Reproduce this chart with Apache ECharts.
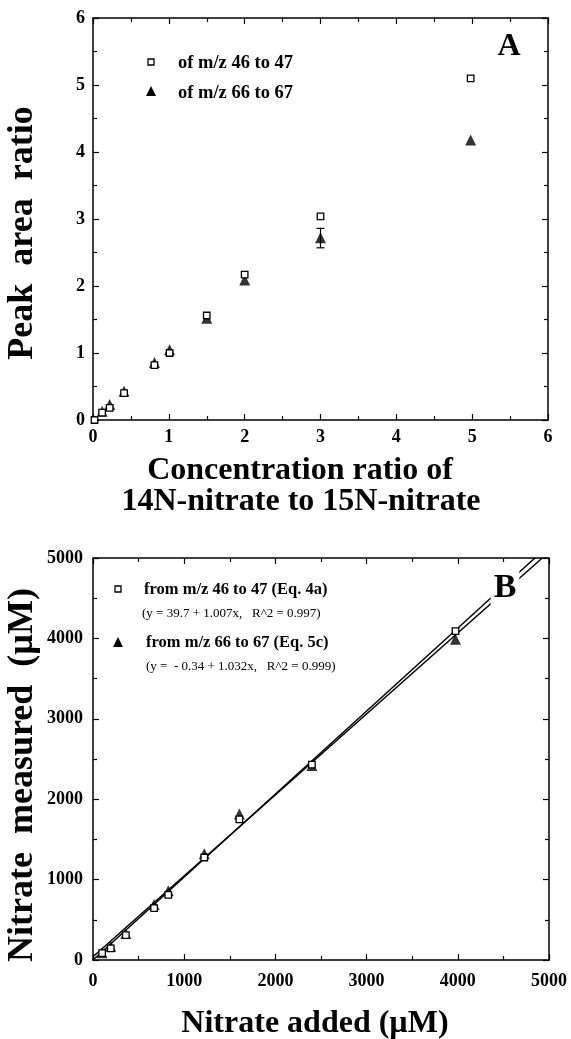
<!DOCTYPE html>
<html>
<head>
<meta charset="utf-8">
<script src="https://cdn.jsdelivr.net/npm/echarts@6/dist/echarts.min.js"></script>
<style>
  html, body { margin: 0; padding: 0; background: #fff; }
  #chart { width: 571px; height: 1039px; }
</style>
</head>
<body>
<div id="chart"></div>
<script>
// panel A: concentration ratio vs peak area ratio
const ratioX = [0.02, 0.12, 0.22, 0.41, 0.81, 1.01, 1.5, 2, 3, 4.98]
const ratio4647 = [0, 0.11, 0.18, 0.40, 0.82, 1.0, 1.56, 2.17, 3.04, 5.10]
const ratioXTri = [0.12, 0.22, 0.41, 0.81, 1.01, 1.5, 2, 3, 4.98]
const ratio6667 = [0.13, 0.23, 0.43, 0.86, 1.05, 1.52, 2.09, 2.72, 4.18]
const errBarsA = [[3, 2.57, 2.86]]

// panel B: nitrate added vs measured
const addedB = [100, 195, 360, 670, 825, 1220, 1605, 2400, 3975]
const meas4647 = [85, 145, 310, 645, 810, 1275, 1750, 2430, 4090]
const meas6667 = [90, 170, 330, 690, 860, 1320, 1815, 2420, 3990]
// fitted lines (end points of y = 39.7 + 1.007x and y = -0.34 + 1.032x)
const fit4647 = [[0, 39.7], [4926, 5000]]
const fit6667 = [[0, -0.34], [4845, 5000]]

const serif = '"Liberation Serif", "Times New Roman", serif'
const pair = (xs, ys) => xs.map((x, i) => [x, ys[i]])

function labelStyle(margin) {
    return { color: '#000', fontFamily: serif, fontWeight: 'bold', fontSize: 18, margin: margin, formatter: v => String(v) }
}
function axisBase(extra) {
    return Object.assign({
        type: 'value',
        axisLine: { show: true, onZero: false, lineStyle: { color: '#000', width: 1.5 } },
        axisTick: { show: true, inside: true, length: 6, lineStyle: { color: '#000', width: 1.2 } },
        minorTick: { show: true, splitNumber: 2, length: 4, lineStyle: { color: '#000', width: 1.2 } },
        splitLine: { show: false },
        axisLabel: labelStyle(8)
    }, extra)
}
function hidden(extra) {
    const a = axisBase(extra)
    a.axisLabel = { show: false }
    return a
}

const chart = echarts.init(document.getElementById('chart'))
const option = {
    backgroundColor: '#fff',
    animation: false,
    grid: [
        { left: 93, top: 18, width: 455, height: 402 },
        { left: 93, top: 558, width: 456, height: 402 }
    ],
    xAxis: [
        axisBase({ gridIndex: 0, min: 0, max: 6, interval: 1, position: 'bottom', axisLabel: labelStyle(8) }),
        hidden({ gridIndex: 0, min: 0, max: 6, interval: 1, position: 'top' }),
        axisBase({ gridIndex: 1, min: 0, max: 5000, interval: 1000, position: 'bottom', axisLabel: labelStyle(12) }),
        hidden({ gridIndex: 1, min: 0, max: 5000, interval: 1000, position: 'top' })
    ],
    yAxis: [
        axisBase({ gridIndex: 0, min: 0, max: 6, interval: 1, position: 'left', axisLabel: labelStyle(8) }),
        hidden({ gridIndex: 0, min: 0, max: 6, interval: 1, position: 'right' }),
        axisBase({ gridIndex: 1, min: 0, max: 5000, interval: 1000, position: 'left', axisLabel: labelStyle(10) }),
        hidden({ gridIndex: 1, min: 0, max: 5000, interval: 1000, position: 'right' })
    ],
    series: [
        {
            type: 'custom', xAxisIndex: 0, yAxisIndex: 0, z: 2,
            renderItem(params, api) {
                const lo = api.coord([api.value(0), api.value(1)])
                const hi = api.coord([api.value(0), api.value(2)])
                const s = { stroke: '#000', lineWidth: 1.2 }
                return {
                    type: 'group',
                    children: [
                        { type: 'line', shape: { x1: lo[0], y1: lo[1], x2: hi[0], y2: hi[1] }, style: s },
                        { type: 'line', shape: { x1: lo[0] - 4, y1: lo[1], x2: lo[0] + 4, y2: lo[1] }, style: s },
                        { type: 'line', shape: { x1: hi[0] - 4, y1: hi[1], x2: hi[0] + 4, y2: hi[1] }, style: s }
                    ]
                }
            },
            data: errBarsA
        },
        {
            name: 'of m/z 66 to 67', type: 'scatter', xAxisIndex: 0, yAxisIndex: 0, z: 3,
            symbol: 'triangle', symbolSize: 11, itemStyle: { color: '#000' },
            data: pair(ratioXTri, ratio6667)
        },
        {
            name: 'of m/z 46 to 47', type: 'scatter', xAxisIndex: 0, yAxisIndex: 0, z: 4,
            symbol: 'rect', symbolSize: 6.5,
            itemStyle: { color: '#fff', borderColor: '#000', borderWidth: 1.3, opacity: 1 },
            data: pair(ratioX, ratio4647)
        },
        {
            type: 'line', xAxisIndex: 2, yAxisIndex: 2, z: 2, symbol: 'none',
            lineStyle: { color: '#000', width: 1.5 }, data: fit4647
        },
        {
            type: 'line', xAxisIndex: 2, yAxisIndex: 2, z: 2, symbol: 'none',
            lineStyle: { color: '#000', width: 1.5 }, data: fit6667
        },
        {
            name: 'from m/z 66 to 67 (Eq. 5c)', type: 'scatter', xAxisIndex: 2, yAxisIndex: 2, z: 3,
            symbol: 'triangle', symbolSize: 11, itemStyle: { color: '#000' },
            data: pair(addedB, meas6667)
        },
        {
            name: 'from m/z 46 to 47 (Eq. 4a)', type: 'scatter', xAxisIndex: 2, yAxisIndex: 2, z: 4,
            symbol: 'rect', symbolSize: 6.5,
            itemStyle: { color: '#fff', borderColor: '#000', borderWidth: 1.3, opacity: 1 },
            data: pair(addedB, meas4647)
        }
    ],
    graphic: [
        // axis titles
        { type: 'text', x: 23, y: 233, rotation: Math.PI / 2,
          style: { text: 'Peak  area  ratio', font: 'bold 36px ' + serif, fill: '#000', align: 'center', verticalAlign: 'middle' } },
        { type: 'text', x: 300, y: 471,
          style: { text: 'Concentration ratio of', font: 'bold 32px ' + serif, fill: '#000', align: 'center', verticalAlign: 'middle' } },
        { type: 'text', x: 301, y: 502,
          style: { text: '14N-nitrate to 15N-nitrate', font: 'bold 32px ' + serif, fill: '#000', align: 'center', verticalAlign: 'middle' } },
        { type: 'text', x: 23, y: 775, rotation: Math.PI / 2,
          style: { text: 'Nitrate  measured  (\u00b5M)', font: 'bold 36px ' + serif, fill: '#000', align: 'center', verticalAlign: 'middle' } },
        { type: 'text', x: 315, y: 1024,
          style: { text: 'Nitrate added (\u00b5M)', font: 'bold 32px ' + serif, fill: '#000', align: 'center', verticalAlign: 'middle' } },
        // panel letters
        { type: 'text', x: 509, y: 47, z: 10,
          style: { text: 'A', font: 'bold 32px ' + serif, fill: '#000', align: 'center', verticalAlign: 'middle' } },
        { type: 'text', x: 505, y: 588, z: 10,
          style: { text: 'B', font: 'bold 34px ' + serif, fill: '#000', align: 'center', verticalAlign: 'middle',
                   backgroundColor: '#fff', padding: [0, 3, 0, 3] } },
        // legend A
        { type: 'rect', z: 10, shape: { x: 148, y: 59, width: 6, height: 6 }, style: { fill: '#fff', stroke: '#000', lineWidth: 1.3 } },
        { type: 'polygon', z: 10, shape: { points: [[151, 86], [146, 96], [156, 96]] }, style: { fill: '#000' } },
        { type: 'text', x: 178, y: 63, z: 10,
          style: { text: 'of m/z 46 to 47', font: 'bold 18.5px ' + serif, fill: '#000', verticalAlign: 'middle' } },
        { type: 'text', x: 178, y: 93, z: 10,
          style: { text: 'of m/z 66 to 67', font: 'bold 18.5px ' + serif, fill: '#000', verticalAlign: 'middle' } },
        // legend B
        { type: 'rect', z: 10, shape: { x: 115, y: 586, width: 6, height: 6 }, style: { fill: '#fff', stroke: '#000', lineWidth: 1.3 } },
        { type: 'text', x: 144, y: 590, z: 10,
          style: { text: 'from m/z 46 to 47 (Eq. 4a)', font: 'bold 16.5px ' + serif, fill: '#000', verticalAlign: 'middle' } },
        { type: 'text', x: 142, y: 614, z: 10,
          style: { text: '(y = 39.7 + 1.007x,   R^2 = 0.997)', font: '13px ' + serif, fill: '#000', verticalAlign: 'middle' } },
        { type: 'polygon', z: 10, shape: { points: [[118, 637], [113, 647], [123, 647]] }, style: { fill: '#000' } },
        { type: 'text', x: 146, y: 643, z: 10,
          style: { text: 'from m/z 66 to 67 (Eq. 5c)', font: 'bold 16.5px ' + serif, fill: '#000', verticalAlign: 'middle' } },
        { type: 'text', x: 146, y: 667, z: 10,
          style: { text: '(y =  - 0.34 + 1.032x,   R^2 = 0.999)', font: '13px ' + serif, fill: '#000', verticalAlign: 'middle' } }
    ]
}
chart.setOption(option)
</script>
</body>
</html>
